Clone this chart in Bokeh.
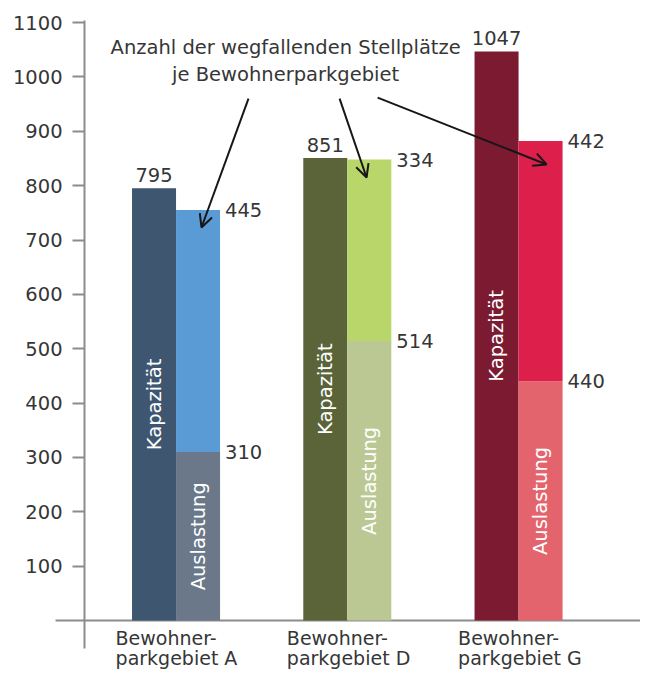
import math
from bokeh.plotting import figure
from bokeh.models import FixedTicker, Arrow, OpenHead
from bokeh.core.properties import value
from bokeh.embed import file_html
from bokeh.resources import INLINE

# ---- data ----
area_line1 = ["Bewohner-", "Bewohner-", "Bewohner-"]
area_line2 = ["parkgebiet A", "parkgebiet D", "parkgebiet G"]
kapazitaet = [795, 851, 1047]
auslastung = [310, 514, 440]
wegfallend = [445, 334, 442]
y_ticks = [100, 200, 300, 400, 500, 600, 700, 800, 900, 1000, 1100]
note_lines = ["Anzahl der wegfallenden Stellplätze", "je Bewohnerparkgebiet"]
label_kap = "Kapazität"
label_aus = "Auslastung"

# ---- styles ----
col_dark = ["#3e5670", "#5b6339", "#7b1a31"]
col_used = ["#6a7889", "#bcc894", "#e4646d"]
col_lost = ["#5b9bd5", "#b9d66b", "#dc1f4b"]
FONT = value("DejaVu Sans")
FS = "19.5px"
TXT = "#363636"
AX = "#8c8c8c"

W = 0.257
idx = list(range(len(kapazitaet)))
x_dark = [i - W / 2 for i in idx]
x_light = [i + W / 2 for i in idx]
total = [a + b for a, b in zip(auslastung, wegfallend)]

X0, X1 = -1.025, 2.712
AXIS_X = -0.5343

p = figure(width=640, height=669, x_range=(X0, X1), y_range=(-90.1, 1122.2),
           output_backend="svg", toolbar_location=None, x_axis_location=None,
           min_border_left=0, min_border_top=10, min_border_bottom=0, min_border_right=0)
p.outline_line_color = None
p.grid.visible = False

yax = p.yaxis[0]
yax.fixed_location = AXIS_X
yax.ticker = FixedTicker(ticks=y_ticks)
yax.bounds = (-51.5, 1103.7)
yax.axis_line_color = AX
yax.axis_line_width = 2
yax.major_tick_line_color = AX
yax.major_tick_line_width = 2
yax.major_tick_out = 12
yax.major_tick_in = 0
yax.minor_tick_line_color = None
yax.major_label_standoff = 10
yax.major_label_text_font = "DejaVu Sans"
yax.major_label_text_font_size = "19.5px"
yax.major_label_text_color = TXT

# baseline
p.segment(x0=[-0.7036], y0=[0], x1=[X1], y1=[0], line_color=AX, line_width=2)

# bars
p.vbar(x=x_dark, top=kapazitaet, bottom=0, width=W, fill_color=col_dark, line_color=None)
p.vbar(x=x_light, top=auslastung, bottom=0, width=W, fill_color=col_used, line_color=None)
p.vbar(x=x_light, top=total, bottom=auslastung, width=W, fill_color=col_lost, line_color=None)

# value labels
p.text(x=x_dark, y=kapazitaet, text=[str(v) for v in kapazitaet], text_align="center",
       text_baseline="middle", y_offset=-13, text_font=FONT, text_font_size=FS, text_color=TXT)
p.text(x=[i + W for i in idx], y=total, text=[str(v) for v in wegfallend], text_align="left",
       text_baseline="middle", x_offset=5, text_font=FONT, text_font_size=FS, text_color=TXT)
p.text(x=[i + W for i in idx], y=auslastung, text=[str(v) for v in auslastung], text_align="left",
       text_baseline="middle", x_offset=5, text_font=FONT, text_font_size=FS, text_color=TXT)

# rotated labels inside bars
p.text(x=x_dark, y=[v / 2 for v in kapazitaet], text=[label_kap] * 3, angle=math.pi / 2,
       text_align="center", text_baseline="middle", text_font=FONT, text_font_size="19.5px",
       text_color="white")
p.text(x=x_light, y=[v / 2 for v in auslastung], text=[label_aus] * 3, angle=math.pi / 2,
       text_align="center", text_baseline="middle", text_font=FONT, text_font_size="19.5px",
       text_color="white")

# category labels
p.text(x=[i - 0.353 for i in idx], y=[-31.3] * 3, text=area_line1, text_align="left",
       text_baseline="middle", text_font=FONT, text_font_size="19px", text_color=TXT)
p.text(x=[i - 0.353 for i in idx], y=[-68.1] * 3, text=area_line2, text_align="left",
       text_baseline="middle", text_font=FONT, text_font_size="19px", text_color=TXT)

# note
p.text(x=[0.64, 0.64], y=[1054, 1004.4], text=note_lines, text_align="center",
       text_baseline="middle", text_font=FONT, text_font_size=FS, text_color=TXT)

# arrows from note to "lost" segments
starts = [(0.423, 960), (0.955, 960), (1.177, 962)]
for i, (xs, ys) in enumerate(starts):
    xe = x_light[i] + [0.02, -0.016, 0.035][i]
    ye = total[i] - [32, 33, 43][i]
    p.add_layout(Arrow(end=OpenHead(size=13, line_width=2, line_color="#161616"),
                       x_start=xs, y_start=ys, x_end=xe, y_end=ye,
                       line_color="#161616", line_width=2))

open("out.html", "w").write(file_html(p, INLINE))
